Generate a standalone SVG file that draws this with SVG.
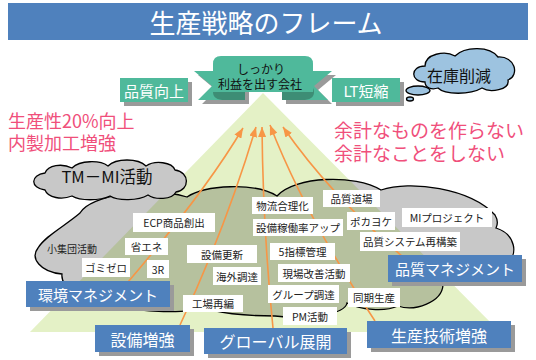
<svg xmlns="http://www.w3.org/2000/svg" width="536" height="360" viewBox="0 0 536 360">
<style>
text{font-family:"Noto Sans CJK JP","Noto Sans",sans-serif;dominant-baseline:central;text-anchor:middle}
.lb{fill:#ffffff}
.lt{font-size:10.5px;fill:#222}
.sh{fill:#9a9a9a}
.bb{fill:#4f81bd}
.bt{fill:#ffffff;font-size:16px}
.tb{fill:#4fb99b}
.pk{fill:#f04f7b;font-size:18px;text-anchor:start}
.ar{fill:none;stroke:#f79646;stroke-width:1.6;marker-end:url(#ah)}
.cl{stroke:#000;stroke-width:1.3}
</style>
<defs>
<marker id="ah" markerUnits="userSpaceOnUse" viewBox="0 0 10 8" refX="10" refY="4" markerWidth="10" markerHeight="8" orient="auto">
<path d="M0,0 L10,4 L0,8 Z" fill="#f79646"/>
</marker>
<path id="bigcloud" d="M80,213 C90,195 150,186 187,197 C205,185 255,182 277,196 C295,176 355,174 381,190 C410,180 470,188 495,215 C498,220 498,224 496,228 C515,234 520,255 505,265 C470,268 445,275 443,285 C442,302 415,312 398,306 C385,312 360,310 347,303 C345,315 305,320 275,316 C245,316 215,313 203,307 C190,314 140,313 115,305 C85,300 60,290 62,274 C40,272 30,258 38,248 C45,236 65,226 80,213 Z"/>
<clipPath id="cc"><use href="#bigcloud"/></clipPath>
</defs>

<g id="title">
<rect x="8" y="3" width="520" height="37" fill="#4f81bd"/>
<text x="266" y="21.5" font-size="26" fill="#ffffff">生産戦略のフレーム</text>
</g>

<g id="pyramid">
<polygon points="263,93 30,332 500,332" fill="#e4f1c6"/>
</g>

<g id="cloud-main">
<use href="#bigcloud" fill="#c8c8c8"/>
<polygon points="263,93 30,332 500,332" fill="#b6c19e" clip-path="url(#cc)"/>
<use href="#bigcloud" fill="none" class="cl"/>
<text x="72" y="248" font-size="10" fill="#222">小集団活動</text>
</g>

<g id="cloud-tmmi">
<path class="cl" fill="#c8c8c8" d="M45,190 C30,188 30,175 45,173 C48,165 62,163 72,168 C80,160 100,160 108,166 C116,158 138,158 146,166 C155,160 172,162 175,170 C190,172 190,190 176,192 C172,200 155,200 148,195 C138,201 118,201 110,196 C100,201 80,201 72,196 C62,200 48,198 45,190 Z"/>
<text x="107" y="176" font-size="16.5" fill="#111">TM－MI活動</text>
</g>

<g id="cloud-zaiko">
<ellipse cx="418" cy="90.5" rx="12" ry="4.5" fill="#9dc3e0" class="cl"/>
<ellipse cx="410" cy="99" rx="3.5" ry="2" fill="#9dc3e0" class="cl"/>
<path class="cl" fill="#9dc3e0" d="M425,82 C410,82 410,66 425,66 C425,54 445,50 455,56 C465,46 490,46 498,57 C515,56 520,75 508,80 C510,90 490,93 482,88 C470,95 445,95 438,88 C432,90 425,88 425,82 Z"/>
<text x="459" y="75" font-size="16" fill="#111">在庫削減</text>
</g>

<g id="banner">
<polygon points="198,75 249,75 249,104 202,104 216,90" class="sh"/>
<polygon points="336,75 286,75 286,104 332,104 318,90" class="sh"/>
<polygon points="194,71 245,71 245,100 198,100 212,86" class="tb"/>
<polygon points="332,71 282,71 282,100 328,100 314,86" class="tb"/>
<path d="M245,84 L225,84 Q213,84 213,92 Q213,100 225,100 L245,100 Z" fill="#3d8d75"/>
<path d="M282,84 L302,84 Q314,84 314,92 Q314,100 302,100 L282,100 Z" fill="#3d8d75"/>
<path d="M213,92 L213,64 Q213,56 221,56 L305,56 Q313,56 313,64 L313,92 Z" class="tb"/>
<text x="261" y="68.5" font-size="12" fill="#111">しっかり</text>
<text x="260" y="83.5" font-size="12" fill="#111">利益を出す会社</text>
</g>

<g id="hinshitsu-kojo">
<rect x="124" y="82" width="68" height="24" class="sh"/>
<rect x="120" y="78" width="68" height="24" class="tb"/>
<text x="154" y="90" font-size="15" fill="#fff">品質向上</text>
</g>
<g id="lt-tanshuku">
<rect x="336" y="82" width="68" height="24" class="sh"/>
<rect x="332" y="78" width="68" height="24" class="tb"/>
<text x="366" y="90" font-size="15" fill="#fff">LT短縮</text>
</g>

<g id="slogan-left">
<text x="8" y="120" class="pk">生産性20%向上</text>
<text x="8" y="142" class="pk">内製加工増強</text>
</g>
<g id="slogan-right">
<text x="334" y="129.5" class="pk" style="font-size:19px">余計なものを作らない</text>
<text x="334" y="152" class="pk" style="font-size:19px">余計なことをしない</text>
</g>

<g id="connectors">
<path class="ar" d="M128,282 Q205,192 243,128"/>
<path class="ar" d="M180,325 Q225,230 256,127"/>
<path class="ar" d="M273,328 Q263,230 262,127"/>
<path class="ar" d="M375,321 Q305,215 270,125"/>
<path class="ar" d="M436,284 Q340,209 283,127"/>
</g>

<g id="labels">
<g id="n-ecp"><rect class="lb" x="133" y="213" width="82" height="19"/><text class="lt" x="174" y="222.5">ECP商品創出</text></g>
<g id="n-shoene"><rect class="lb" x="125" y="238" width="43" height="17"/><text class="lt" x="146.5" y="246.5">省エネ</text></g>
<g id="n-gomizero"><rect class="lb" x="82" y="258" width="48" height="19"/><text class="lt" x="106" y="267.5">ゴミゼロ</text></g>
<g id="n-3r"><rect class="lb" x="147" y="260" width="22" height="18"/><text class="lt" x="158" y="269">3R</text></g>
<g id="n-setsubikoushin"><rect class="lb" x="187" y="245" width="70" height="18"/><text class="lt" x="222" y="254">設備更新</text></g>
<g id="n-kaigai"><rect class="lb" x="213" y="267" width="48" height="18"/><text class="lt" x="237" y="276">海外調達</text></g>
<g id="n-kojo"><rect class="lb" x="183" y="295" width="60" height="17"/><text class="lt" x="213" y="303.5">工場再編</text></g>
<g id="n-butsuryu"><rect class="lb" x="252" y="197" width="61" height="17"/><text class="lt" x="282.5" y="205.5">物流合理化</text></g>
<g id="n-kadoritsu"><rect class="lb" x="253" y="219" width="90" height="17"/><text class="lt" x="298" y="227.5">設備稼働率アップ</text></g>
<g id="n-5shihyo"><rect class="lb" x="270" y="243" width="65" height="17"/><text class="lt" x="302.5" y="251.5">5指標管理</text></g>
<g id="n-genba"><rect class="lb" x="278" y="264" width="72" height="18"/><text class="lt" x="314" y="273">現場改善活動</text></g>
<g id="n-group"><rect class="lb" x="268" y="285" width="71" height="18"/><text class="lt" x="303.5" y="294">グループ調達</text></g>
<g id="n-pm"><rect class="lb" x="283" y="307" width="54" height="18"/><text class="lt" x="310" y="316">PM活動</text></g>
<g id="n-dojo"><rect class="lb" x="323" y="190" width="57" height="17"/><text class="lt" x="351.5" y="198.5">品質道場</text></g>
<g id="n-pokayoke"><rect class="lb" x="347" y="212" width="48" height="18"/><text class="lt" x="371" y="221">ポカヨケ</text></g>
<g id="n-mi"><rect class="lb" x="402" y="208" width="90" height="19"/><text class="lt" x="447" y="217.5">MIプロジェクト</text></g>
<g id="n-system"><rect class="lb" x="360" y="232" width="100" height="19"/><text class="lt" x="410" y="241.5">品質システム再構築</text></g>
<g id="n-doki"><rect class="lb" x="348" y="288" width="52" height="19"/><text class="lt" x="374" y="297.5">同期生産</text></g>
</g>

<g id="kankyo">
<rect x="30" y="285" width="144" height="26" class="sh"/>
<rect x="26" y="281" width="144" height="26" class="bb"/>
<text x="98" y="294" class="bt" style="font-size:15px">環境マネジメント</text>
</g>
<g id="hinshitsu-mgmt">
<rect x="392" y="259" width="134" height="27" class="sh"/>
<rect x="388" y="255" width="134" height="27" class="bb"/>
<text x="455" y="268.5" class="bt" style="font-size:15px">品質マネジメント</text>
</g>
<g id="setsubi">
<rect x="99" y="329" width="95" height="27" class="sh"/>
<rect x="95" y="325" width="95" height="27" class="bb"/>
<text x="142.5" y="338.5" class="bt">設備増強</text>
</g>
<g id="global">
<rect x="208" y="332" width="143" height="26" class="sh"/>
<rect x="204" y="328" width="143" height="26" class="bb"/>
<text x="275.5" y="341" class="bt">グローバル展開</text>
</g>
<g id="seigi">
<rect x="371" y="325" width="144" height="27" class="sh"/>
<rect x="367" y="321" width="144" height="27" class="bb"/>
<text x="439" y="334.5" class="bt">生産技術増強</text>
</g>
</svg>
